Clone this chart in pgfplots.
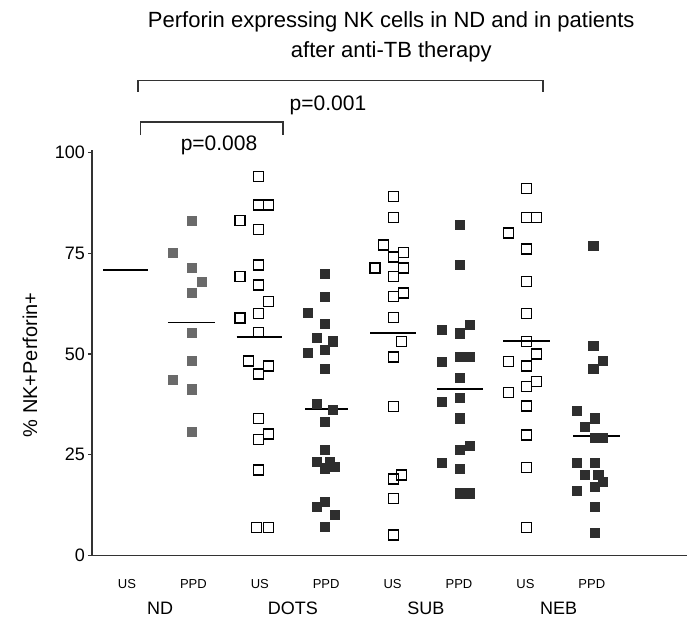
\documentclass[border=0pt]{standalone}
\usepackage{pgfplots}
\pgfplotsset{compat=1.18}
\usepackage{fontspec}
\setmainfont{Liberation Sans}
\definecolor{fillgray}{HTML}{6A6A6A}
\definecolor{filldark}{HTML}{2E2E2E}
\definecolor{axisgray}{HTML}{333333}
\begin{document}
\begin{tikzpicture}
\begin{axis}[
  name=ax,
  scale only axis,
  width=297.5pt, height=202.75pt,
  xmin=-0.527, xmax=8.434,
  ymin=0, ymax=100.6,
  axis lines=left,
  axis line style={-, axisgray, line width=0.75pt},
  clip=false,
  xtick={0,1,2,3,4,5,6,7},
  xticklabels={US,PPD,US,PPD,US,PPD,US,PPD},
  x tick style={draw=none},
  xticklabel style={font=\fontsize{6.5}{8}\selectfont, anchor=center, yshift=-12.25pt},
  ytick={0,25,50,75,100},
  y tick style={axisgray, line width=0.6pt},
  major tick length=2pt,
  tick align=outside,
  yticklabel style={font=\fontsize{9}{11}\selectfont, xshift=2pt},
  /pgf/number format/assume math mode=true,
  ylabel={\% NK+Perforin+},
  ylabel style={font=\fontsize{10}{12}\selectfont, at={(axis description cs:-0.1042,0.47)}, anchor=center},
  openmark/.style={only marks, mark=square, mark size=2.5pt, mark options={draw=black, fill=white, line width=0.7pt}},
  filledmark/.style={only marks, mark=square*, mark size=2.3pt, mark options={draw=#1, fill=#1}},
  med/.style={black, line width=0.9pt, no marks},
]
% ND PPD
\addplot[filledmark=fillgray] coordinates {
(0.974,83.1) (0.697,75.0) (0.974,71.3) (1.125,67.9) (0.974,65.1)
(0.974,55.3) (0.974,48.3) (0.697,43.5) (0.974,41.2) (0.974,30.7)};
% DOTS US
\addplot[openmark] coordinates {
(1.977,94.0) (1.977,87.0) (2.128,87.0) (1.702,83.1) (1.977,80.9)
(1.977,72.1) (1.702,69.2) (1.977,67.1) (2.128,63.0) (1.977,60.1)
(1.702,58.9) (1.977,55.3) (1.827,48.3) (2.128,47.0) (1.977,45.0)
(1.977,34.0) (1.977,28.8) (2.128,30.1) (1.977,21.2) (1.953,7.0) (2.128,7.0)};
% DOTS PPD
\addplot[filledmark=filldark] coordinates {
(2.982,69.9) (2.982,64.2) (2.730,60.1) (2.982,57.4) (2.857,53.9)
(3.107,53.1) (2.982,51.0) (2.730,50.3) (2.982,46.2) (2.857,37.6)
(3.107,36.1) (2.982,33.2) (2.982,26.2) (2.857,23.3) (3.057,23.3)
(2.982,21.6) (3.133,22.0) (2.857,12.1) (2.982,13.3) (3.133,10.0) (2.982,7.1)};
% SUB US
\addplot[openmark] coordinates {
(4.011,89.0) (4.011,83.8) (3.860,77.0) (4.011,74.1) (4.161,75.1)
(3.735,71.3) (4.161,71.3) (4.011,69.2) (4.161,65.1) (4.011,64.2)
(4.011,59.0) (4.137,53.1) (4.011,49.2) (4.011,36.9) (4.137,20.0)
(4.011,19.0) (4.011,14.2) (4.011,5.1)};
% SUB PPD
\addplot[filledmark=filldark] coordinates {
(5.015,82.0) (5.015,72.1) (4.748,56.0) (5.015,55.1) (5.166,57.2)
(4.748,48.1) (5.015,49.3) (5.166,49.3) (5.015,44.0) (4.748,38.2)
(5.015,39.0) (5.015,34.0) (5.015,26.2) (5.166,27.2) (4.748,22.9)
(5.015,21.4) (5.015,15.4) (5.166,15.4)};
% NEB US
\addplot[openmark] coordinates {
(6.020,91.1) (6.020,83.8) (6.170,83.8) (5.742,80.0) (6.020,76.0)
(6.020,67.9) (6.020,60.1) (6.020,53.1) (6.170,50.0) (5.742,48.1)
(6.020,47.0) (6.170,43.1) (6.020,41.9) (5.742,40.4) (6.020,37.1)
(6.020,29.9) (6.020,21.9) (6.020,7.0)};
% NEB PPD
\addplot[filledmark=filldark] coordinates {
(7.023,76.8) (7.023,52.0) (7.173,48.3) (7.023,46.2) (6.773,35.9)
(7.048,34.0) (6.898,32.0) (7.048,29.1) (7.173,29.1) (6.773,23.0)
(7.048,23.0) (6.898,20.0) (7.098,20.0) (7.173,18.3) (7.048,17.1)
(6.773,16.1) (7.048,12.0) (7.048,5.7)};
% medians
\addplot[med] coordinates {(-0.361,70.8) (0.316,70.8)};
\addplot[med] coordinates {(0.617,57.8) (1.325,57.8)};
\addplot[med] coordinates {(1.652,54.3) (2.330,54.3)};
\addplot[med] coordinates {(2.681,36.3) (3.328,36.3)};
\addplot[med] coordinates {(3.660,55.1) (4.350,55.1)};
\addplot[med] coordinates {(4.670,41.3) (5.360,41.3)};
\addplot[med] coordinates {(5.670,53.3) (6.370,53.3)};
\addplot[med] coordinates {(6.720,29.7) (7.420,29.7)};
% group labels
\node[font=\fontsize{9}{11}\selectfont, yshift=-26.25pt] at (axis cs:0.5,0) {ND};
\node[font=\fontsize{9}{11}\selectfont, yshift=-26.25pt] at (axis cs:2.5,0) {DOTS};
\node[font=\fontsize{9}{11}\selectfont, yshift=-26.25pt] at (axis cs:4.5,0) {SUB};
\node[font=\fontsize{9}{11}\selectfont, yshift=-26.25pt] at (axis cs:6.5,0) {NEB};
% brackets
\draw[axisgray, line width=0.75pt] (axis cs:0.166,115.0) -- (axis cs:0.166,117.8) -- (axis cs:6.265,117.8) -- (axis cs:6.265,115.0);
\draw[axisgray, line width=0.75pt] (axis cs:0.207,104.3) -- (axis cs:0.207,107.6) -- (axis cs:2.349,107.6) -- (axis cs:2.349,104.3);
\node[font=\fontsize{10.5}{12}\selectfont] at (axis cs:3.027,111.6) {p=0.001};
\node[font=\fontsize{10.5}{12}\selectfont] at (axis cs:1.386,101.7) {p=0.008};
\node[font=\fontsize{11}{15}\selectfont, align=center] at (axis cs:3.98,128.7) {Perforin expressing NK cells in ND and in patients\\after anti-TB therapy};
\end{axis}
\pgfresetboundingbox
\path[use as bounding box] ([xshift=-46pt,yshift=-34.25pt]ax.south west) rectangle ([yshift=277.75pt]ax.south east);
\end{tikzpicture}
\end{document}
